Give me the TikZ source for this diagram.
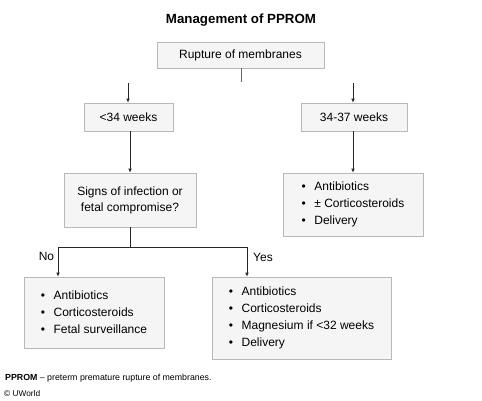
\documentclass[tikz,border=0pt]{standalone}
\usepackage{fontspec}
\setmainfont{Liberation Sans}
\usetikzlibrary{shadows,arrows.meta}
\begin{document}
\begin{tikzpicture}[x=1pt,y=-1pt,
  box/.style={draw=black!28, fill=black!4, line width=0.6pt, inner sep=0pt,
    drop shadow={shadow xshift=0.8pt, shadow yshift=-1.2pt, fill=black!35, opacity=0.6},
    font={\fontsize{12}{17}\selectfont}},
  conn/.style={line width=0.7pt, black!85},
  arr/.style={conn, -{Latex[length=4pt,width=3.5pt]}},
  lbl/.style={font={\fontsize{12}{14}\selectfont}, inner sep=0pt}]
\useasboundingbox (0,0) rectangle (482,400);
\node[font={\bfseries\fontsize{13.3}{15}\selectfont}] (title) at (241,20) {Management of PPROM};
\node[box, minimum width=167, minimum height=26] (rup) at (240.5,55) {Rupture of membranes};
\coordinate (stub) at (241.5,82);
\draw[line width=1pt, black!60] (rup.south -| stub) -- (stub);
\node[box, minimum width=89, minimum height=28] (lt) at (128.5,117) {<34 weeks};
\node[box, minimum width=106, minimum height=28] (rt) at (354,117) {34-37 weeks};
\coordinate (la) at (128,83);
\coordinate (ra) at (353,83);
\draw[arr] (la) -- (lt.north -| la);
\draw[arr] (ra) -- (rt.north -| ra);
\node[box, minimum width=132, minimum height=54, align=center, font={\fontsize{12}{16}\selectfont}] (sig) at (130,200) {Signs of infection or\\fetal compromise?};
\node[box, minimum width=140, minimum height=63, align=left] (rb) at (353,204.5) {\textbullet\hspace{8.5pt}Antibiotics\\\textbullet\hspace{8.5pt}± Corticosteroids\\\textbullet\hspace{8.5pt}Delivery};
\draw[arr] (lt.south -| sig.north) -- (sig.north);
\draw[arr] (rt.south -| ra) -- (rb.north -| ra);
\node[box, minimum width=140, minimum height=71, align=left] (nob) at (94,312.5) {\textbullet\hspace{8.5pt}Antibiotics\\\textbullet\hspace{8.5pt}Corticosteroids\\\textbullet\hspace{8.5pt}Fetal surveillance};
\node[box, minimum width=179, minimum height=82, align=left] (yesb) at (301.5,318) {\textbullet\hspace{8.5pt}Antibiotics\\\textbullet\hspace{8.5pt}Corticosteroids\\\textbullet\hspace{8.5pt}Magnesium if <32 weeks\\\textbullet\hspace{8.5pt}Delivery};
\coordinate (split) at (130,247);
\coordinate (nl) at (58,247);
\coordinate (yl) at (247,247);
\draw[conn] (sig.south) -- (split);
\draw[conn] (nl) -- (yl);
\draw[arr] (nl) -- (nob.north -| nl);
\draw[arr] (yl) -- (yesb.north -| yl);
\node[lbl] (no) at (46.5,256) {No};
\node[lbl] (yes) at (263,257) {Yes};
\node[anchor=west, inner sep=0pt, font={\fontsize{8.8}{10}\selectfont}] (foot) at (5,378) {\textbf{PPROM} – preterm premature rupture of membranes.};
\node[anchor=west, inner sep=0pt, font={\fontsize{8.3}{10}\selectfont}] (cr) at (4,394) {© UWorld};
\end{tikzpicture}
\end{document}
